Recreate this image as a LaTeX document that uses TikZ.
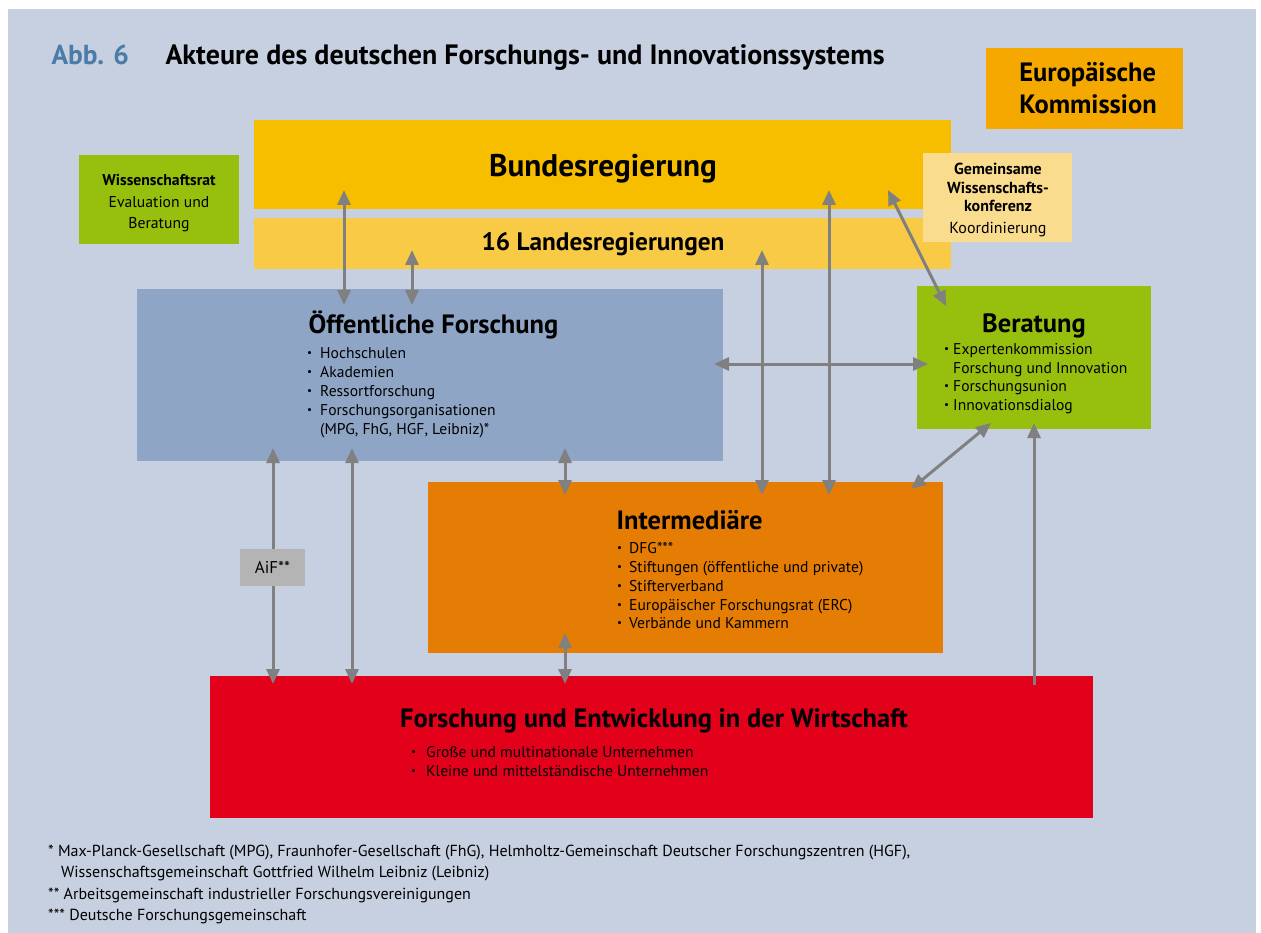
\documentclass[tikz,border=0pt]{standalone}
\usepackage{fontspec}
\setmainfont{PT Sans}
\usetikzlibrary{arrows.meta}
\definecolor{bgcolor}{HTML}{C6D0E0}
\definecolor{abbblue}{HTML}{4B7BA7}
\definecolor{eucolor}{HTML}{F5A800}
\definecolor{bundcolor}{HTML}{F7BE00}
\definecolor{landcolor}{HTML}{F8CA45}
\definecolor{greencolor}{HTML}{97BF0D}
\definecolor{gwkcolor}{HTML}{FADC8F}
\definecolor{oefcolor}{HTML}{8FA5C5}
\definecolor{intercolor}{HTML}{E57D05}
\definecolor{wirtcolor}{HTML}{E2001A}
\definecolor{aifcolor}{HTML}{B4B4B4}
\definecolor{linkcolor}{HTML}{808080}
\newcommand{\fsz}[2]{\fontsize{#1}{#2}\selectfont}
\newcommand{\bul}[1][13pt]{\makebox[#1][l]{\raisebox{.12em}{\fsz{11}{11}\textbullet}}}
\tikzset{
  box/.style={rectangle, inner sep=0pt, outer sep=0pt},
  head/.style={anchor=base, font=\bfseries\fsz{26.5}{30}},
  list/.style={anchor=north west, align=left, inner sep=0pt, font=\fsz{15.6}{19}},
  link/.style={draw=linkcolor, line width=3pt, {Triangle[length=15pt,width=13pt]}-{Triangle[length=15pt,width=13pt]}},
  uplink/.style={draw=linkcolor, line width=3pt, -{Triangle[length=15pt,width=13pt]}}
}

\begin{document}
\begin{tikzpicture}[x=1pt,y=-1pt]
    \useasboundingbox (0,0) rectangle (1261,933);
    \fill[bgcolor] (8,9) rectangle (1256,933);

    \node [anchor=base west, text=abbblue, font=\bfseries\fsz{27.5}{30}] (abb) at (48,65) {Abb. 6};
    \node [anchor=base west, font=\bfseries\fsz{28}{30}] (title) at (162,65)
    {Akteure des deutschen Forschungs- und Innovationssystems};

    % government and neighbours
    \node [box, fill=eucolor, minimum width=197pt, minimum height=81pt] (eu) at (1084.5,88.5) {};
    \node [anchor=north, align=left, inner sep=0pt, font=\bfseries\fsz{26.5}{32}] (eu-txt) at (1088,62)
    {Europäische\\Kommission};
    \node [box, fill=bundcolor, minimum width=697pt, minimum height=89pt] (bund) at (602.5,164.5) {};
    \node [anchor=base, font=\bfseries\fsz{31.3}{34}] (bund-txt) at (603,177) {Bundesregierung};
    \node [box, fill=landcolor, minimum width=697pt, minimum height=51pt] (land) at (602.5,243.5) {};
    \node [anchor=base, font=\bfseries\fsz{25.3}{28}] (land-txt) at (603,251) {16 Landesregierungen};
    \node [box, fill=greencolor, minimum width=160pt, minimum height=89pt] (wr) at (159,199.5) {};
    \node [anchor=north, align=center, inner sep=0pt, font=\fsz{15.7}{21.5}] (wr-txt) at (159,174.5)
    {\textbf{Wissenschaftsrat}\\Evaluation und\\Beratung};
    \node [box, fill=gwkcolor, minimum width=149pt, minimum height=89pt] (gwk) at (997.5,197.5) {};
    \node [anchor=north, align=center, inner sep=0pt, font=\fsz{16}{18.5}] (gwk-txt) at (998,163)
    {\textbf{Gemeinsame}\\\textbf{Wissenschafts-}\\\textbf{konferenz}\\[3pt]Koordinierung};

    % research actors
    \node [box, fill=oefcolor, minimum width=586pt, minimum height=172pt] (oef) at (430,375) {};
    \node [head, anchor=base west] (oef-txt) at (305,334) {Öffentliche Forschung};
    \node [list] (oef-list) at (307,347.5)
    {\bul Hochschulen\\\bul Akademien\\\bul Ressortforschung\\\bul Forschungsorganisationen\\\hspace*{13pt}(MPG, FhG, HGF, Leibniz)*};

    \node [box, fill=greencolor, minimum width=234pt, minimum height=143pt] (ber) at (1034,357.5) {};
    \node [head] (ber-txt) at (1034,332) {Beratung};
    \node [list, font=\fsz{15.6}{18.5}] (ber-list) at (944,343.5)
    {\bul[9pt]Expertenkommission\\\hspace*{9pt}Forschung und Innovation\\\bul[9pt]Forschungsunion\\\bul[9pt]Innovationsdialog};

    \node [box, fill=intercolor, minimum width=515pt, minimum height=171pt] (inter) at (685.5,567.5) {};
    \node [head, anchor=base west] (inter-txt) at (613,529) {Intermediäre};
    \node [list, font=\fsz{15.6}{18.75}] (inter-list) at (617,542.5)
    {\bul[12pt]DFG***\\\bul[12pt]Stiftungen (öffentliche und private)\\\bul[12pt]Stifterverband\\\bul[12pt]Europäischer Forschungsrat (ERC)\\\bul[12pt]Verbände und Kammern};

    \node [box, fill=wirtcolor, minimum width=883pt, minimum height=142pt] (wirt) at (651.5,747) {};
    \node [head] (wirt-txt) at (654,727) {Forschung und Entwicklung in der Wirtschaft};
    \node [list] (wirt-list) at (411,746.5)
    {\bul[15pt]Große und multinationale Unternehmen\\\bul[15pt]Kleine und mittelständische Unternehmen};

    % connections
    \draw [link, shorten <=-19pt, shorten >=-16pt] ([xshift=-258.5pt]bund.south) -- ([xshift=-86pt]oef.north);
    \draw [link, shorten <=-19pt, shorten >=-16pt] ([xshift=-190.5pt]land.south) -- ([xshift=-18pt]oef.north);
    \draw [link, shorten <=-19pt, shorten >=-13pt] ([xshift=226.5pt]bund.south) -- ([xshift=143.5pt]inter.north);
    \draw [link, shorten <=-19pt, shorten >=-13pt] ([xshift=159.5pt]land.south) -- ([xshift=76.5pt]inter.north);
    \draw [link] ([xshift=-63pt,yshift=19pt]bund.south east) -- ([xshift=29pt,yshift=-20pt]ber.north west);
    \draw [link, shorten <=-9pt, shorten >=-11pt] ([yshift=11pt]oef.east) -- ([yshift=-6.5pt]ber.west);
    \draw [link] ([xshift=-43pt,yshift=6pt]ber.south) -- ([xshift=-32pt,yshift=-7pt]inter.north east);
    \draw [uplink, shorten >=-6pt] ([xshift=382.5pt,yshift=-9pt]wirt.north) -- (ber.south);
    \draw [link, shorten <=-13pt, shorten >=-8pt] ([xshift=-157pt]oef.south) -- ([xshift=-378.5pt]wirt.north);
    \draw [link, shorten <=-13pt, shorten >=-8pt] ([xshift=-78pt]oef.south) -- ([xshift=-299.5pt]wirt.north);
    \draw [link, shorten <=-13pt, shorten >=-13pt] ([xshift=135pt]oef.south) -- ([xshift=-120.5pt]inter.north);
    \draw [link, shorten <=-20pt, shorten >=-8pt] ([xshift=-120.5pt]inter.south) -- ([xshift=-86.5pt]wirt.north);

    \node [box, fill=aifcolor, minimum width=65pt, minimum height=37pt, font=\fsz{17}{19}] (aif) at (272.5,567.5) {AiF**};

    % footnotes
    \node [list, font=\fsz{16}{21.5}] (notes) at (48,844.5)
    {* Max-Planck-Gesellschaft (MPG), Fraunhofer-Gesellschaft (FhG), Helmholtz-Gemeinschaft Deutscher Forschungszentren (HGF),\\
     \hspace*{13pt}Wissenschaftsgemeinschaft Gottfried Wilhelm Leibniz (Leibniz)\\
     ** Arbeitsgemeinschaft industrieller Forschungsvereinigungen\\
     *** Deutsche Forschungsgemeinschaft};
\end{tikzpicture}
\end{document}
